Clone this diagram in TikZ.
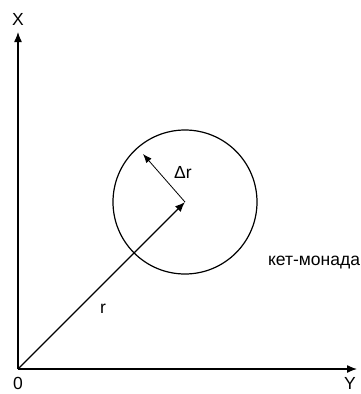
\documentclass[tikz,border=0pt]{standalone}
\usepackage{fontspec}
\setmainfont{Liberation Sans}
\usetikzlibrary{arrows.meta}
\begin{document}
\begin{tikzpicture}[x=1bp,y=-1bp,
  axis/.style={line width=1.3bp,-{Latex[length=10bp,width=8bp]}},
  vec/.style={line width=1.3bp,-{Latex[length=10bp,width=8bp]}},
  thinvec/.style={line width=0.8bp,-{Latex[length=9bp,width=7bp]}},
  lbl/.style={inner sep=0pt,font=\fontsize{17.5bp}{21bp}\selectfont}]
\useasboundingbox (0,0) rectangle (361,394);
\coordinate (O) at (18,369);
\coordinate (Xend) at (18,32);
\coordinate (Yend) at (357,369);
\coordinate (C) at (185,202);
\coordinate (D) at (143,154);
\draw[axis] (O) -- (Xend);
\draw[axis] (O) -- (Yend);
\draw[line width=1.2bp] (C) circle[radius=72];
\draw[vec] (O) -- (C);
\draw[thinvec] (C) -- (D);
\node[lbl] (xl) at (18,19) {X};
\node[lbl] (yl) at (350,383) {Y};
\node[lbl] (ol) at (18,383) {0};
\node[lbl] (rl) at (103,309) {r};
\node[lbl] (drl) at (183,172) {Δr};
\node[lbl] (kl) at (314,263) {кет-монада};
\end{tikzpicture}
\end{document}
